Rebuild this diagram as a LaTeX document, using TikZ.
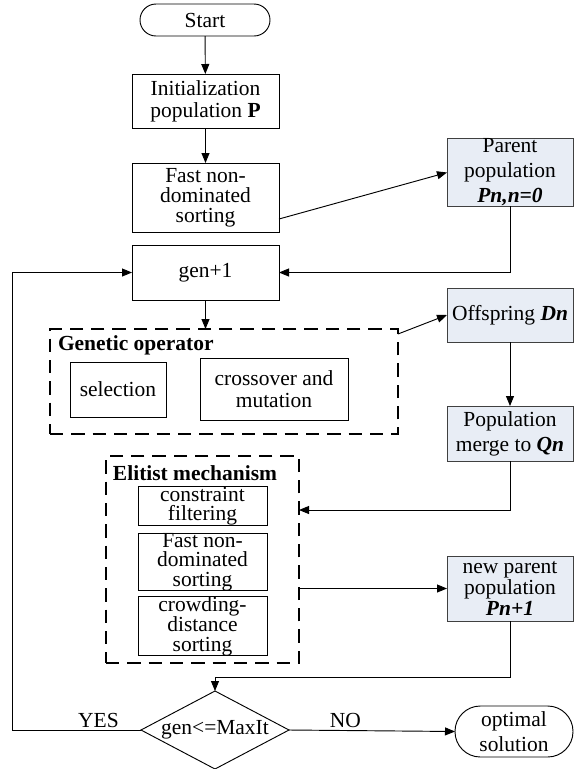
\documentclass[tikz,border=0pt]{standalone}
\usepackage{fontspec}
\setmainfont{Liberation Serif}
\usetikzlibrary{shapes.geometric,arrows.meta,calc}
\definecolor{popfill}{HTML}{E8EDF5}
\begin{document}
\begin{tikzpicture}[x=0.75pt,y=-0.75pt,
  font=\fontsize{16.1}{16.5}\selectfont,
  every node/.style={inner sep=0pt,outer sep=0pt},
  arr/.style={-{Triangle[length=7.5pt,width=6pt]},line width=0.7pt},
  procbox/.style={draw,line width=0.7pt,align=center},
  popbox/.style={draw=black!75,fill=popfill,line width=0.7pt,align=center},
  groupbox/.style={draw,line width=0.8pt,dash pattern=on 10pt off 6pt},
  termbox/.style={draw,line width=0.7pt,align=center}
]
\useasboundingbox (0,0) rectangle (574,769);

% main column
\node[termbox,rounded corners=12pt,minimum width=97.5pt,minimum height=24pt] (start) at (205,20) {Start};
\node[procbox,minimum width=110.25pt,minimum height=40.5pt] (init) at (205.5,101) {Initialization\\population \textbf{P}};
\node[procbox,minimum width=110.25pt,minimum height=51.75pt,font=\fontsize{16.1}{15}\selectfont] (fast) at (205.5,197.5) {Fast non-\\dominated\\sorting};
\node[procbox,minimum width=110.25pt,minimum height=41.25pt] (gen) at (205.5,272.5) {gen+1};

% genetic operator group
\node[groupbox,minimum width=261pt,minimum height=78.75pt] (geno) at (224,381.5) {};
\node[anchor=west] (gtitle) at (58,345) {\textbf{Genetic operator}};
\node[procbox,minimum width=72pt,minimum height=41.25pt] (sel) at (118,389.5) {selection};
\node[procbox,minimum width=111pt,minimum height=46.5pt] (cross) at (274,389) {crossover and\\mutation};

% elitist mechanism group
\node[groupbox,minimum width=144.75pt,minimum height=155.25pt] (elit) at (202.5,559.5) {};
\node[anchor=west] (etitle) at (113,473) {\textbf{Elitist mechanism}};
\node[procbox,minimum width=96.75pt,minimum height=28.5pt,font=\fontsize{16.1}{14.5}\selectfont] (cf) at (202.5,506) {constraint\\filtering};
\node[procbox,minimum width=96.75pt,minimum height=40.5pt,font=\fontsize{16.1}{14.5}\selectfont] (fns) at (202.5,562) {Fast non-\\dominated\\sorting};
\node[procbox,minimum width=96.75pt,minimum height=40.5pt,font=\fontsize{16.1}{14.5}\selectfont] (cds) at (202.5,626) {crowding-\\distance\\sorting};

% population column
\node[popbox,minimum width=94.5pt,minimum height=50.25pt,font=\fontsize{16.1}{18.75}\selectfont] (parent) at (510,172.5) {Parent\\population\\\textbf{\textit{Pn,n=0}}};
\node[popbox,minimum width=94.5pt,minimum height=40.5pt] (off) at (510,315) {Offspring \textbf{\textit{Dn}}};
\node[popbox,minimum width=94.5pt,minimum height=41.25pt,font=\fontsize{16.1}{18.75}\selectfont] (merge) at (510,433.5) {Population\\merge to \textbf{\textit{Qn}}};
\node[popbox,minimum width=94.5pt,minimum height=48.75pt,font=\fontsize{16.1}{16}\selectfont] (newp) at (510,588.5) {new parent\\population\\\textbf{\textit{Pn+1}}};

% decision and end
\node[diamond,draw,line width=0.7pt,aspect=1.9,minimum width=111pt,minimum height=58.5pt] (dia) at (215,730) {gen<=MaxIt};
\node[termbox,rounded corners=19pt,minimum width=88.5pt,minimum height=38.25pt,font=\fontsize{16.1}{18.75}\selectfont] (opt) at (514,731.5) {optimal\\solution};

% connectors
\draw[arr] (start) -- (init);
\draw[arr] (init) -- (fast);
\draw[arr] ($(fast.south east)+(0,-13)$) -- (parent.west);
\draw[arr] (parent.south) |- (gen.east);
\draw[arr] (gen.south) -- (gen.south |- geno.north);
\draw[arr] ($(geno.north east)+(0,5)$) -- (off.west);
\draw[arr] (off.south) -- (merge.north);
\draw[arr] (merge.south) |- ($(elit.north east)+(0,54)$);
\draw[arr] (elit.east |- newp.west) -- (newp.west);
\draw[arr] (newp.south) -- ++(0,56) -| (dia.north);
\draw[arr] (dia.west) -- node[pos=0.33,above=2pt] {YES} ++(-129,0) |- (gen.west);
\draw[arr] (dia.east) -- node[pos=0.34,above=2pt] {NO} (opt.west);
\end{tikzpicture}
\end{document}
